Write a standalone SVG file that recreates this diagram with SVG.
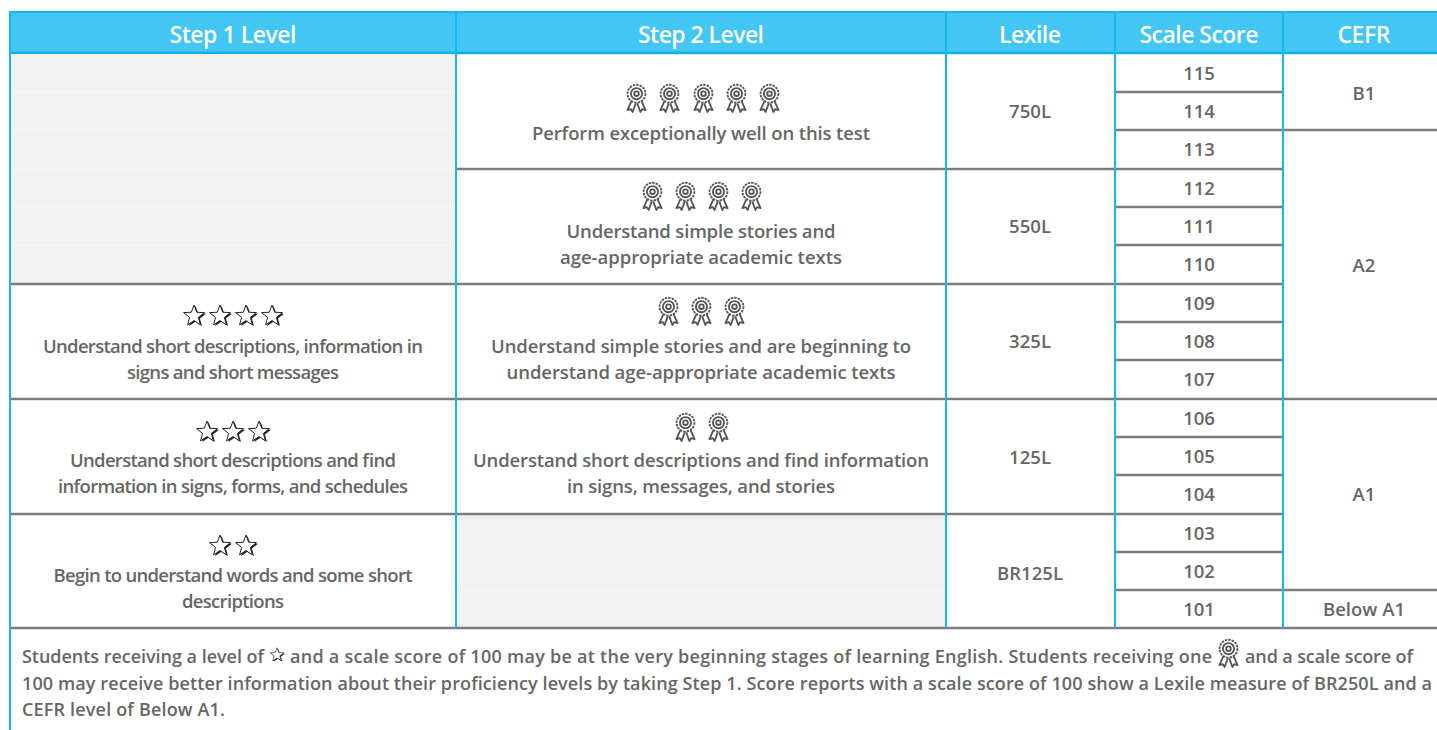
<svg xmlns="http://www.w3.org/2000/svg" xmlns:xlink="http://www.w3.org/1999/xlink" width="1437" height="730" viewBox="0 0 1437 730">
<style>
.h{font-family:"Open Sans","Noto Sans",sans-serif;font-weight:600;font-size:23px;fill:#ffffff;text-anchor:middle}
.t{font-family:"Open Sans","Noto Sans",sans-serif;font-weight:600;font-size:18.5px;fill:#666666;text-anchor:middle}
.f{font-family:"Open Sans","Noto Sans",sans-serif;font-weight:600;font-size:18px;fill:#666666}
.row{stroke:#7c7c7c;stroke-width:2.4}
.blue{stroke:#18b6ee;stroke-width:2}
</style>
<defs>
<symbol id="award" viewBox="0 0 26 30" width="25" height="30">
<g fill="none" stroke="#555" stroke-width="1.9" stroke-linejoin="round">
<circle cx="13" cy="10.5" r="9.3" stroke-dasharray="2.6 1"/>
<circle cx="13" cy="10.5" r="5.8"/>
<circle cx="13" cy="10.5" r="2.4"/>
<path d="M7.8,18 L3.6,27.6 L7.2,26.6 L9,29.5 L12.2,20.6"/>
<path d="M18.2,18 L22.4,27.6 L18.8,26.6 L17,29.5 L13.8,20.6"/>
</g>
</symbol>
<g id="star">
<polygon transform="translate(1.4,1)" fill="#222" points="0,-10 2.47,-3.4 9.51,-3.09 3.99,1.3 5.88,8.09 0,4.2 -5.88,8.09 -3.99,1.3 -9.51,-3.09 -2.47,-3.4"/>
<polygon fill="#fff" stroke="#222" stroke-width="0.9" stroke-linejoin="miter" points="0,-10 2.47,-3.4 9.51,-3.09 3.99,1.3 5.88,8.09 0,4.2 -5.88,8.09 -3.99,1.3 -9.51,-3.09 -2.47,-3.4"/>
</g>
</defs>
<rect width="1437" height="730" fill="#ffffff"/>

<g id="header">
<rect x="10" y="12" width="1427" height="41" fill="#42c6f4"/>
<line x1="10" y1="12" x2="1437" y2="12" stroke="#18b6ee" stroke-width="2"/>
<line x1="10" y1="53" x2="1437" y2="53" stroke="#12b0e8" stroke-width="2.4"/>
<text class="h" x="233" y="43" textLength="127">Step 1 Level</text>
<text class="h" x="701" y="43" textLength="126">Step 2 Level</text>
<text class="h" x="1030" y="43" textLength="62">Lexile</text>
<text class="h" x="1199" y="43" textLength="119">Scale Score</text>
<text class="h" x="1364" y="43" textLength="53">CEFR</text>
</g>

<g id="grey-cells">
<rect x="11" y="54" width="445" height="230" fill="#f1f1f1"/>
<rect x="457" y="514" width="489" height="114" fill="#f1f1f1"/>
<line x1="11" y1="92" x2="456" y2="92" stroke="#f7f7f7" stroke-width="1"/>
<line x1="11" y1="130" x2="456" y2="130" stroke="#f7f7f7" stroke-width="1"/>
<line x1="11" y1="169" x2="456" y2="169" stroke="#f7f7f7" stroke-width="1"/>
<line x1="11" y1="207" x2="456" y2="207" stroke="#f7f7f7" stroke-width="1"/>
<line x1="11" y1="245" x2="456" y2="245" stroke="#f7f7f7" stroke-width="1"/>
<line x1="457" y1="552" x2="946" y2="552" stroke="#f7f7f7" stroke-width="1"/>
<line x1="457" y1="590" x2="946" y2="590" stroke="#f7f7f7" stroke-width="1"/>
</g>

<g id="grid">
<line class="row" x1="1115" y1="92" x2="1283" y2="92"/>
<line class="row" x1="1115" y1="130" x2="1437" y2="130"/>
<line class="row" x1="456" y1="169" x2="1283" y2="169"/>
<line class="row" x1="1115" y1="207" x2="1283" y2="207"/>
<line class="row" x1="1115" y1="245" x2="1283" y2="245"/>
<line class="row" x1="10" y1="284" x2="1283" y2="284"/>
<line class="row" x1="1115" y1="322" x2="1283" y2="322"/>
<line class="row" x1="1115" y1="360" x2="1283" y2="360"/>
<line class="row" x1="10" y1="399" x2="1437" y2="399"/>
<line class="row" x1="1115" y1="437" x2="1283" y2="437"/>
<line class="row" x1="1115" y1="475" x2="1283" y2="475"/>
<line class="row" x1="10" y1="514" x2="1283" y2="514"/>
<line class="row" x1="1115" y1="552" x2="1283" y2="552"/>
<line class="row" x1="1115" y1="590" x2="1437" y2="590"/>
<line class="row" x1="10" y1="628" x2="1437" y2="628"/>
<line class="blue" x1="10" y1="11" x2="10" y2="730"/>
<line class="blue" x1="456" y1="11" x2="456" y2="628"/>
<line class="blue" x1="946" y1="11" x2="946" y2="628"/>
<line class="blue" x1="1115" y1="11" x2="1115" y2="628"/>
<line class="blue" x1="1283" y1="11" x2="1283" y2="628"/>
</g>

<g id="row-750L">
<use xlink:href="#award" x="624" y="83"/>
<use xlink:href="#award" x="657" y="83"/>
<use xlink:href="#award" x="691" y="83"/>
<use xlink:href="#award" x="724" y="83"/>
<use xlink:href="#award" x="757" y="83"/>
<text class="t" x="701" y="140" textLength="338">Perform exceptionally well on this test</text>
<text class="t" x="1030" y="118" textLength="42">750L</text>
</g>

<g id="row-550L">
<use xlink:href="#award" x="640" y="181"/>
<use xlink:href="#award" x="673" y="181"/>
<use xlink:href="#award" x="706" y="181"/>
<use xlink:href="#award" x="739" y="181"/>
<text class="t" x="701" y="238" textLength="269">Understand simple stories and</text>
<text class="t" x="701" y="264" textLength="282">age-appropriate academic texts</text>
<text class="t" x="1030" y="233" textLength="42">550L</text>
</g>

<g id="row-325L">
<use xlink:href="#star" transform="translate(194,316) scale(1.1)"/>
<use xlink:href="#star" transform="translate(220,316) scale(1.1)"/>
<use xlink:href="#star" transform="translate(246,316) scale(1.1)"/>
<use xlink:href="#star" transform="translate(272,316) scale(1.1)"/>
<text class="t" x="233" y="353" textLength="380">Understand short descriptions, information in</text>
<text class="t" x="233" y="379" textLength="212">signs and short messages</text>
<use xlink:href="#award" x="656" y="296"/>
<use xlink:href="#award" x="689" y="296"/>
<use xlink:href="#award" x="722" y="296"/>
<text class="t" x="701" y="353" textLength="420">Understand simple stories and are beginning to</text>
<text class="t" x="701" y="379" textLength="389">understand age-appropriate academic texts</text>
<text class="t" x="1030" y="348" textLength="42">325L</text>
</g>

<g id="row-125L">
<use xlink:href="#star" transform="translate(207,432) scale(1.1)"/>
<use xlink:href="#star" transform="translate(233,432) scale(1.1)"/>
<use xlink:href="#star" transform="translate(259,432) scale(1.1)"/>
<text class="t" x="233" y="467" textLength="326">Understand short descriptions and find</text>
<text class="t" x="233" y="493" textLength="350">information in signs, forms, and schedules</text>
<use xlink:href="#award" x="673" y="412"/>
<use xlink:href="#award" x="706" y="412"/>
<text class="t" x="701" y="467" textLength="456">Understand short descriptions and find information</text>
<text class="t" x="701" y="493" textLength="268">in signs, messages, and stories</text>
<text class="t" x="1030" y="464" textLength="42">125L</text>
</g>

<g id="row-BR125L">
<use xlink:href="#star" transform="translate(220,546) scale(1.1)"/>
<use xlink:href="#star" transform="translate(246,546) scale(1.1)"/>
<text class="t" x="233" y="582" textLength="359">Begin to understand words and some short</text>
<text class="t" x="233" y="608" textLength="102">descriptions</text>
<text class="t" x="1030" y="580" textLength="66">BR125L</text>
</g>

<g id="scale-scores">
<text class="t" x="1199" y="80">115</text>
<text class="t" x="1199" y="118">114</text>
<text class="t" x="1199" y="156">113</text>
<text class="t" x="1199" y="195">112</text>
<text class="t" x="1199" y="233">111</text>
<text class="t" x="1199" y="271">110</text>
<text class="t" x="1199" y="310">109</text>
<text class="t" x="1199" y="348">108</text>
<text class="t" x="1199" y="386">107</text>
<text class="t" x="1199" y="425">106</text>
<text class="t" x="1199" y="463">105</text>
<text class="t" x="1199" y="501">104</text>
<text class="t" x="1199" y="540">103</text>
<text class="t" x="1199" y="578">102</text>
<text class="t" x="1199" y="616">101</text>
</g>

<g id="cefr">
<text class="t" x="1364" y="100">B1</text>
<text class="t" x="1364" y="272">A2</text>
<text class="t" x="1364" y="501">A1</text>
<text class="t" x="1364" y="616" textLength="82">Below A1</text>
</g>

<g id="footnote">
<text class="f" x="22" y="663" textLength="242">Students receiving a level of</text>
<use xlink:href="#star" transform="translate(277,655) scale(0.72)"/>
<text class="f" x="290" y="663" textLength="922">and a scale score of 100 may be at the very beginning stages of learning English. Students receiving one</text>
<use xlink:href="#award" x="1216" y="638"/>
<text class="f" x="1245" y="663" textLength="168">and a scale score of</text>
<text class="f" x="22" y="690" textLength="1410">100 may receive better information about their proficiency levels by taking Step 1. Score reports with a scale score of 100 show a Lexile measure of BR250L and a</text>
<text class="f" x="22" y="716" textLength="203">CEFR level of Below A1.</text>
</g>
</svg>
